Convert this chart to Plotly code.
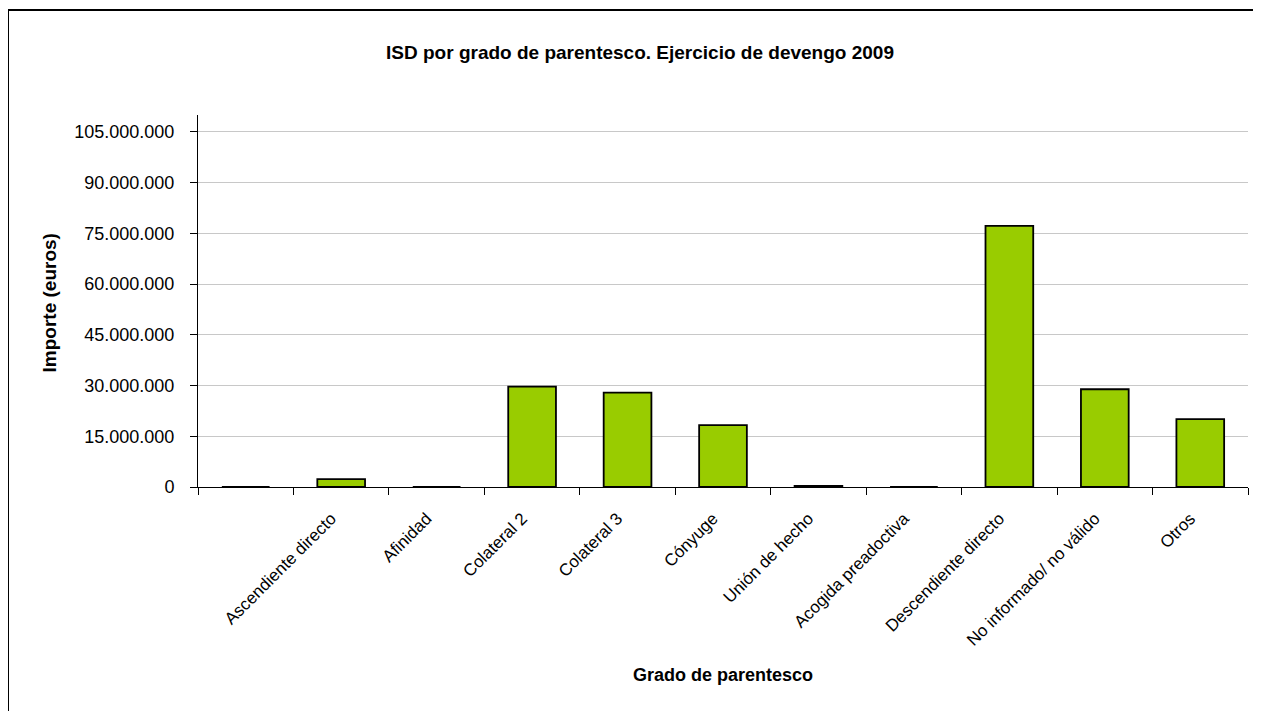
import plotly.graph_objects as go

categorias = [" ", "Ascendiente directo", "Afinidad", "Colateral 2", "Colateral 3",
              "Cónyuge", "Unión de hecho", "Acogida preadoctiva", "Descendiente directo",
              "No informado/ no válido", "Otros"]
importe = [0, 2300000, 0, 29700000, 27900000, 18300000, 300000, 0, 77200000,
           28900000, 20100000]
y_ticks = [0, 15000000, 30000000, 45000000, 60000000, 75000000, 90000000, 105000000]

fuente = "Liberation Sans"

fig = go.Figure()

fig.add_trace(go.Bar(x=categorias, y=importe,
                     marker=dict(color="#99CC00", line=dict(color="black", width=1.8)),
                     showlegend=False))

fig.update_xaxes(type="category", tickson="boundaries", ticks="outside", ticklen=7,
                 tickcolor="black", showline=True, linecolor="black", linewidth=1,
                 tickangle=-45, ticklabelstandoff=14, ticklabelshift=-10,
                 tickfont=dict(family=fuente, size=17, color="black"))

fig.update_yaxes(range=[0, 110000000], tickvals=y_ticks, tickformat=",d",
                 ticks="outside", ticklen=7, tickcolor="black", ticklabelstandoff=12,
                 showline=True, linecolor="black", linewidth=1,
                 showgrid=True, gridcolor="#c8c8c8", gridwidth=1, zeroline=False,
                 tickfont=dict(family=fuente, size=18, color="black"))

fig.update_layout(
    width=1253, height=703,
    separators=",.",
    bargap=0.5,
    plot_bgcolor="white", paper_bgcolor="white",
    margin=dict(l=190, r=13, t=107, b=224),
    title=dict(text="<b>ISD por grado de parentesco. Ejercicio de devengo 2009</b>",
               x=0.5044, xanchor="center", y=0.9374, yanchor="middle",
               font=dict(family=fuente, size=19, color="black")),
    annotations=[
        dict(text="<b>Grado de parentesco</b>", xref="paper", yref="paper",
             x=0.5, y=-0.5054, xanchor="center", yanchor="middle", showarrow=False,
             font=dict(family=fuente, size=18, color="black")),
        dict(text="<b>Importe (euros)</b>", xref="paper", yref="paper",
             x=-0.141, y=0.496, xanchor="center", yanchor="middle", showarrow=False,
             textangle=-90, font=dict(family=fuente, size=19, color="black")),
    ],
    shapes=[dict(type="rect", xref="paper", yref="paper",
                 x0=-0.18095, x1=1.05, y0=-0.7, y1=1.2823,
                 line=dict(color="black", width=2))],
)

fig.write_html("out.html")
